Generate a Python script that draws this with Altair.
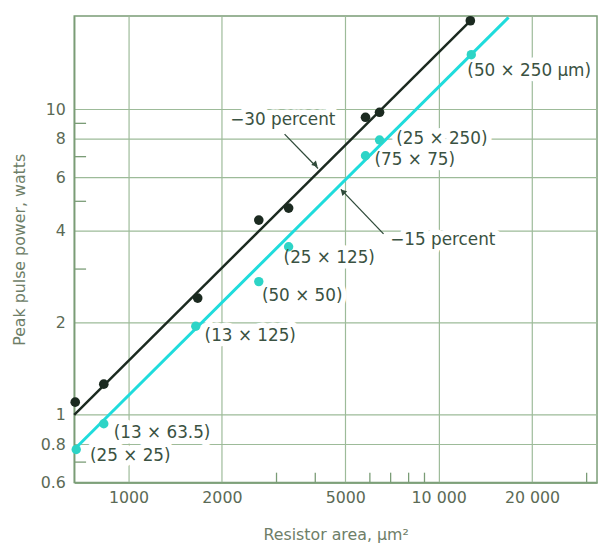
import altair as alt
import pandas as pd

# ---- data ----
# black series (-30 percent)
black_x = [673, 832, 1671, 2630, 3282, 5808, 6446, 12650]
black_y = [1.10, 1.26, 2.41, 4.34, 4.75, 9.42, 9.78, 19.5]
# cyan series (-15 percent)
cyan_x = [678, 832, 1647, 2630, 3282, 5808, 6446, 12740]
cyan_y = [0.77, 0.935, 1.95, 2.73, 3.55, 7.05, 7.94, 15.1]

# fitted lines (end points)
black_line_x = [668, 12650]
black_line_y = [1.0, 19.5]
cyan_line_x = [668, 16800]
cyan_line_y = [0.77, 20.0]

# annotation labels (anchor = left edge, vertical middle, in data units)
label_text = ["(50 \u00d7 250 \u00b5m)", "(25 \u00d7 250)", "(75 \u00d7 75)", "(25 \u00d7 125)",
              "(50 \u00d7 50)", "(13 \u00d7 125)", "(13 \u00d7 63.5)", "(25 \u00d7 25)",
              "\u221230 percent", "\u221215 percent"]
label_x = [12372, 7298, 6209, 3162, 2691, 1759, 896, 751, 2128, 6982]
label_y = [13.37, 8.0, 6.84, 3.27, 2.445, 1.815, 0.874, 0.731, 9.21, 3.74]

# leader arrows
arrow_x1 = [3185, 6640]
arrow_y1 = [8.30, 3.91]
arrow_x2 = [4083, 4840]
arrow_y2 = [6.40, 5.47]
head_x = [3990, 4930]
head_y = [6.62, 5.35]
head_angle = [135, 315]

# axes
x_ticks = [1000, 2000, 5000, 10000, 20000]
x_tick_labels = ["1000", "2000", "5000", "10 000", "20 000"]
x_minor = [3000, 4000, 6000, 7000, 8000, 9000, 30000]
y_ticks = [0.6, 0.8, 1, 2, 4, 6, 8, 10]
y_tick_labels = ["0.6", "0.8", "1", "2", "4", "6", "8", "10"]
y_minor = [0.7, 3, 5, 7, 9]

x_domain = [668, 32400]
y_domain = [0.6, 20.2]

W, H = 529, 472
FONT = "DejaVu Sans"
GRID = "#9dbb99"
DOMAIN = "#7a9c76"
LABEL = "#5b6a55"
TEXT = "#3a5242"
BLACK = "#1b2a20"
CYAN_LINE = "#1fdcdc"
CYAN_PT = "#2dd4c6"


def label_expr(vals, labs):
    expr = "datum.label"
    for v, l in zip(vals, labs):
        expr = f"datum.value == {v} ? '{l}' : ({expr})"
    return expr


xs = alt.Scale(type="log", domain=x_domain, nice=False, zero=False)
ys = alt.Scale(type="log", domain=y_domain, nice=False, zero=False)

x_axis = alt.Axis(values=x_ticks, labelExpr=label_expr(x_ticks, x_tick_labels),
                  grid=True, ticks=False, labelPadding=7, labelFontSize=16,
                  labelFont=FONT, labelColor=LABEL, title="Resistor area, \u00b5m\u00b2",
                  titleFont=FONT, titleFontSize=16, titleFontWeight="normal",
                  titleColor="#6e7e68", titleY=58, titleBaseline="alphabetic")
y_axis = alt.Axis(values=y_ticks, labelExpr=label_expr(y_ticks, y_tick_labels),
                  grid=True, ticks=False, labelPadding=9, labelFontSize=16,
                  labelFont=FONT, labelColor=LABEL, title="Peak pulse power, watts",
                  titleFont=FONT, titleFontSize=16, titleFontWeight="normal",
                  titleColor="#6e7e68", titleX=-47)


def X(field="x", **kw):
    return alt.X(f"{field}:Q", scale=xs, axis=x_axis, **kw)


def Y(field="y", **kw):
    return alt.Y(f"{field}:Q", scale=ys, axis=y_axis, **kw)


black_df = pd.DataFrame({"x": black_x, "y": black_y})
cyan_df = pd.DataFrame({"x": cyan_x, "y": cyan_y})
bline_df = pd.DataFrame({"x": black_line_x, "y": black_line_y})
cline_df = pd.DataFrame({"x": cyan_line_x, "y": cyan_line_y})
lab_df = pd.DataFrame({"x": label_x, "y": label_y, "t": label_text})
arr_df = pd.DataFrame({"x": arrow_x1, "y": arrow_y1, "x2": arrow_x2, "y2": arrow_y2})
head_df = pd.DataFrame({"x": head_x, "y": head_y, "a": head_angle})
xmin_df = pd.DataFrame({"x": x_minor})
ymin_df = pd.DataFrame({"y": y_minor})

xminor = alt.Chart(xmin_df).mark_rule(color=DOMAIN, strokeWidth=1.3).encode(
    x=X(), y=alt.value(H), y2=alt.value(H - 10))
yminor = alt.Chart(ymin_df).mark_rule(color=DOMAIN, strokeWidth=1.3).encode(
    y=Y(), x=alt.value(0), x2=alt.value(12))

bline = alt.Chart(bline_df).mark_line(color=BLACK, strokeWidth=2.5).encode(x=X(), y=Y())
cline = alt.Chart(cline_df).mark_line(color=CYAN_LINE, strokeWidth=3).encode(x=X(), y=Y())
bpts = alt.Chart(black_df).mark_circle(color=BLACK, size=95, opacity=1).encode(x=X(), y=Y())
cpts = alt.Chart(cyan_df).mark_circle(color=CYAN_PT, size=90, opacity=1).encode(x=X(), y=Y())

arrows = alt.Chart(arr_df).mark_rule(color="#2f4a3a", strokeWidth=1.3).encode(
    x=X(), y=Y(), x2="x2:Q", y2="y2:Q")
heads = alt.Chart(head_df).mark_point(shape="triangle", filled=True, color="#2f4a3a",
                                      size=45, opacity=1).encode(
    x=X(), y=Y(), angle=alt.Angle("a:Q", scale=None))

halo = alt.Chart(lab_df).mark_text(align="left", baseline="middle", font=FONT, fontSize=17,
                                   color="white", stroke="white", strokeWidth=11,
                                   strokeJoin="round").encode(x=X(), y=Y(), text="t:N")
labels = alt.Chart(lab_df).mark_text(align="left", baseline="middle", font=FONT, fontSize=17,
                                     color=TEXT).encode(x=X(), y=Y(), text="t:N")

chart = alt.layer(xminor, yminor, halo, arrows, heads, bline, cline, bpts, cpts, labels).properties(
    width=W, height=H,
    padding={"left": 67, "top": 5, "right": 1, "bottom": 60},
    autosize=alt.AutoSizeParams(type="none"),
).configure_view(stroke=DOMAIN, strokeWidth=1.5).configure_axis(
    gridColor=GRID, gridWidth=1.2, gridOpacity=1, domainColor=DOMAIN, domainWidth=1.5
)

chart.save("out.html", embed_options={"renderer": "svg", "actions": False})
